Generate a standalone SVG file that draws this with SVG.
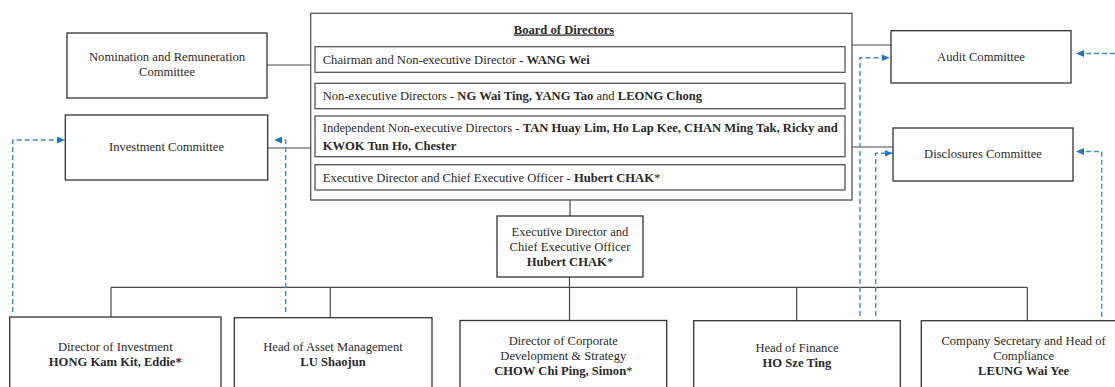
<svg xmlns="http://www.w3.org/2000/svg" width="1115" height="387" viewBox="0 0 1115 387">
  <style>
    .box { fill: #ffffff; stroke: #333333; stroke-width: 1.3; }
    .row { fill: #ffffff; stroke: #555555; stroke-width: 1.3; }
    .board { fill: #ffffff; stroke: #555555; stroke-width: 1.3; }
    .link { fill: none; stroke: #4a4a4a; stroke-width: 1.2; }
    .dash { fill: none; stroke: #3b8ed6; stroke-width: 1.4; stroke-dasharray: 5 3; }
    text { font-family: "Liberation Serif", "Times New Roman", serif; font-size: 12.6px; fill: #2a2a2a; }
    .c { text-anchor: middle; }
    .b { font-weight: bold; }
    .n { font-weight: normal; }
  </style>
  <defs>
    <marker id="arrow" viewBox="0 0 8 7" refX="8" refY="3.5" markerWidth="8" markerHeight="7" markerUnits="userSpaceOnUse" orient="auto">
      <path d="M0,0 L8,3.5 L0,7 z" fill="#1f74c4"/>
    </marker>
  </defs>

  <rect width="1115" height="387" fill="#ffffff"/>

  <!-- solid reporting lines and dashed reporting lines -->
  <g id="connectors">
    <line class="link" x1="267" y1="65" x2="311" y2="65"/>
    <line class="link" x1="267" y1="148" x2="311" y2="148"/>
    <line class="link" x1="852" y1="45" x2="891" y2="45"/>
    <line class="link" x1="852" y1="147" x2="893" y2="147"/>
    <line class="link" x1="570" y1="200" x2="570" y2="216"/>
    <line class="link" x1="569.5" y1="277" x2="569.5" y2="320.5"/>
    <line class="link" x1="111" y1="287.3" x2="1027.3" y2="287.3"/>
    <line class="link" x1="111" y1="287.3" x2="111" y2="317"/>
    <line class="link" x1="330.3" y1="287.3" x2="330.3" y2="317.7"/>
    <line class="link" x1="796.7" y1="287.3" x2="796.7" y2="320.7"/>
    <line class="link" x1="1027.3" y1="287.3" x2="1027.3" y2="320.7"/>

    <path class="dash" d="M12.7,312 V140 H65" marker-end="url(#arrow)"/>
    <path class="dash" d="M285.7,312 V140 H274" marker-end="url(#arrow)"/>
    <path class="dash" d="M860,316 V57.7 H889.5" marker-end="url(#arrow)"/>
    <path class="dash" d="M875.7,316 V153.3 H892.5" marker-end="url(#arrow)"/>
    <path class="dash" d="M1115,53.5 H1076" marker-end="url(#arrow)"/>
    <path class="dash" d="M1101.7,316.7 V151.5 H1076" marker-end="url(#arrow)"/>
  </g>

  <g id="nomination-committee">
    <rect class="box" x="67" y="33" width="200" height="65"/>
    <text class="c" x="167" y="60.8">Nomination and Remuneration</text>
    <text class="c" x="167" y="75.8">Committee</text>
  </g>

  <g id="investment-committee">
    <rect class="box" x="65.3" y="115" width="202.4" height="65"/>
    <text class="c" x="166.5" y="151">Investment Committee</text>
  </g>

  <g id="board-of-directors">
    <rect class="board" x="310.7" y="13.3" width="541.3" height="186.7"/>
    <text class="c b" x="564" y="33.5" text-decoration="underline">Board of Directors</text>
    <rect class="row" x="315" y="46.7" width="530" height="25.6"/>
    <text x="322.7" y="63.7">Chairman and Non-executive Director - <tspan class="b">WANG Wei</tspan></text>
    <rect class="row" x="315" y="83.3" width="530" height="25.4"/>
    <text x="322.7" y="100.4">Non-executive Directors - <tspan class="b">NG Wai Ting, YANG Tao</tspan> and <tspan class="b">LEONG Chong</tspan></text>
    <rect class="row" x="315" y="116" width="530" height="40.7"/>
    <text x="322.7" y="132">Independent Non-executive Directors - <tspan class="b">TAN Huay Lim, Ho Lap Kee, CHAN Ming Tak, Ricky and</tspan></text>
    <text class="b" x="322.7" y="150">KWOK Tun Ho, Chester</text>
    <rect class="row" x="315" y="164.7" width="530" height="25.3"/>
    <text x="322.7" y="181.5">Executive Director and Chief Executive Officer - <tspan class="b">Hubert CHAK</tspan>*</text>
  </g>

  <g id="audit-committee">
    <rect class="box" x="891" y="30.7" width="180" height="52.3"/>
    <text class="c" x="981" y="61">Audit Committee</text>
  </g>

  <g id="disclosures-committee">
    <rect class="box" x="893" y="128" width="180" height="53"/>
    <text class="c" x="983" y="157.6">Disclosures Committee</text>
  </g>

  <g id="chief-executive">
    <rect class="box" x="497" y="216" width="146" height="61"/>
    <text class="c" x="570" y="235.8">Executive Director and</text>
    <text class="c" x="570" y="250.8">Chief Executive Officer</text>
    <text class="c b" x="570" y="265.8">Hubert CHAK<tspan class="n">*</tspan></text>
  </g>

  <g id="director-of-investment">
    <rect class="box" x="9.7" y="317" width="211.3" height="80"/>
    <text class="c" x="115.3" y="350.8">Director of Investment</text>
    <text class="c b" x="115.3" y="365.8">HONG Kam Kit, Eddie*</text>
  </g>

  <g id="head-of-asset-management">
    <rect class="box" x="234.3" y="317.7" width="197.7" height="80"/>
    <text class="c" x="333" y="350.8">Head of Asset Management</text>
    <text class="c b" x="333" y="365.8">LU Shaojun</text>
  </g>

  <g id="director-of-corporate-development">
    <rect class="box" x="460" y="320.5" width="206.7" height="80"/>
    <text class="c" x="563.3" y="345">Director of Corporate</text>
    <text class="c" x="563.3" y="360">Development &amp; Strategy</text>
    <text class="c b" x="563.3" y="375">CHOW Chi Ping, Simon<tspan class="n">*</tspan></text>
  </g>

  <g id="head-of-finance">
    <rect class="box" x="693.7" y="320.7" width="206.6" height="80"/>
    <text class="c" x="797" y="351.8">Head of Finance</text>
    <text class="c b" x="797" y="366.8">HO Sze Ting</text>
  </g>

  <g id="company-secretary">
    <rect class="box" x="921.3" y="320.7" width="205" height="80"/>
    <text class="c" x="1023.6" y="345">Company Secretary and Head of</text>
    <text class="c" x="1023.6" y="360">Compliance</text>
    <text class="c b" x="1023.6" y="375">LEUNG Wai Yee</text>
  </g>
</svg>
